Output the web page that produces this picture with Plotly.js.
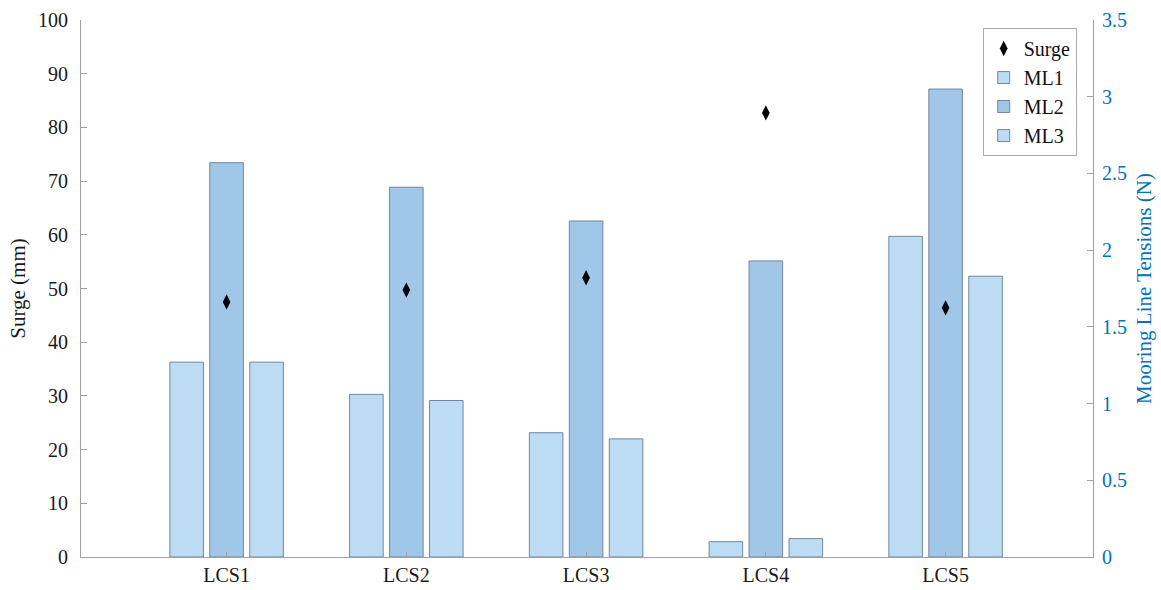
<!DOCTYPE html>
<html>
<head>
<meta charset="utf-8">
<script src="https://cdn.plot.ly/plotly-3.0.1.min.js"></script>
<style>
  html, body { margin: 0; padding: 0; background: #fff; }
  #chart { width: 1161px; height: 590px; }
</style>
</head>
<body>
<div id="chart"></div>
<script>
// Load cases along the x axis
const cases = ["LCS1", "LCS2", "LCS3", "LCS4", "LCS5"];

// Mean surge per load case (mm)
const surge = [47.5, 49.7, 52.0, 82.7, 46.4];

// Mooring line tensions per load case (N)
const ml1 = [1.27, 1.06, 0.81, 0.10, 2.09];
const ml2 = [2.57, 2.41, 2.19, 1.93, 3.05];
const ml3 = [1.27, 1.02, 0.77, 0.12, 1.83];

const serif = "Liberation Serif, Times New Roman, serif";
const blue = "rgb(0,114,189)";
const axisGray = "rgb(160,160,160)";
const edge = "rgb(115,135,158)";

function barTrace(name, vals, fill) {
  return {
    type: "bar", name: name, x: cases, y: vals, yaxis: "y",
    marker: { color: fill, line: { color: edge, width: 1 } },
    hoverinfo: "y"
  };
}

const data = [
  {
    type: "scatter", mode: "markers", name: "Surge",
    x: cases, y: surge, yaxis: "y2",
    marker: { symbol: "diamond-tall", size: 11, color: "#000" }
  },
  barTrace("ML1", ml1, "rgb(188,220,244)"),
  barTrace("ML2", ml2, "rgb(160,199,232)"),
  barTrace("ML3", ml3, "rgb(188,220,244)")
];

const layout = {
  width: 1161, height: 590,
  margin: { l: 81, r: 68, t: 20, b: 33 },
  paper_bgcolor: "#fff", plot_bgcolor: "#fff",
  font: { family: serif, size: 20, color: "#1a1a1a" },
  barmode: "group",
  bargap: 0.333,
  bargroupgap: 0.16,
  showlegend: true,
  legend: {
    x: 0.891, y: 0.985, xanchor: "left", yanchor: "top",
    bgcolor: "#fff", bordercolor: "rgb(170,170,170)", borderwidth: 1,
    font: { family: serif, size: 20, color: "#111" },
    traceorder: "normal",
    tracegroupgap: 0, itemwidth: 30
  },
  xaxis: {
    range: [-0.81, 4.82],
    showline: true, linecolor: axisGray, linewidth: 1,
    ticks: "inside", ticklen: 5, tickcolor: axisGray,
    showgrid: false, zeroline: false,
    tickfont: { family: serif, size: 20, color: "#1a1a1a" }
  },
  // Tension axis on the right; the bars are drawn against it
  yaxis: {
    side: "right",
    range: [0, 3.5], dtick: 0.5,
    showline: true, linecolor: axisGray, linewidth: 1,
    ticks: "inside", ticklen: 6, tickcolor: axisGray,
    ticklabelstandoff: 4,
    showgrid: false, zeroline: false,
    tickfont: { family: serif, size: 20, color: blue },
    title: { text: "Mooring Line Tensions (N)", font: { family: serif, size: 21, color: blue }, standoff: 10 }
  },
  // Surge axis on the left, overlaid so the markers sit on top of the bars
  yaxis2: {
    overlaying: "y", side: "left",
    range: [0, 100], dtick: 10,
    showline: true, linecolor: axisGray, linewidth: 1,
    ticks: "inside", ticklen: 6, tickcolor: axisGray,
    ticklabelstandoff: 8,
    showgrid: false, zeroline: false,
    tickfont: { family: serif, size: 20, color: "#1a1a1a" },
    title: { text: "Surge (mm)", font: { family: serif, size: 21, color: "#1a1a1a" }, standoff: 6 }
  }
};

Plotly.newPlot("chart", data, layout, { displayModeBar: false, staticPlot: true });
</script>
</body>
</html>
